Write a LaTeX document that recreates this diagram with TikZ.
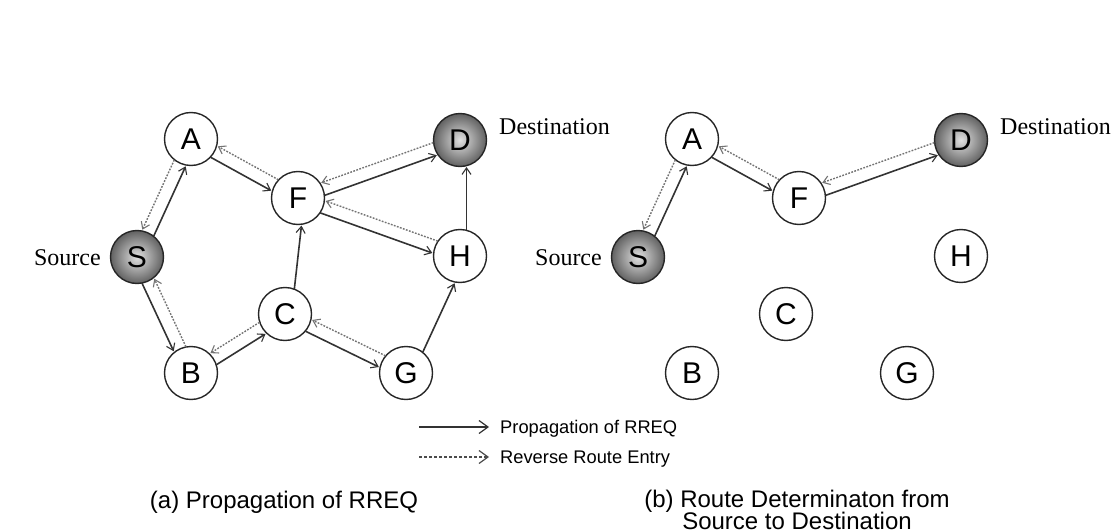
\documentclass[tikz,border=0pt]{standalone}
\usepackage{fontspec}
\setmainfont{Liberation Serif}
\setsansfont{Liberation Sans}
\usetikzlibrary{arrows.meta,calc}

% one RREQ hop or reverse entry, drawn a little to the right of the centre line
\newcommand\hop[3]{%
  \draw[#1,shorten <=26pt,shorten >=27pt]
    ($(#2)!6.5pt!-90:(#3)$) -- ($(#3)!6.5pt!90:(#2)$);}

% the eight nodes of one network, names prefixed by #1
\newcommand\network[1]{%
  \node[ends] (#1S) at (137,257) {S};
  \node[ends] (#1D) at (460,140) {D};
  \node[nd]   (#1A) at (191,139) {A};
  \node[nd]   (#1F) at (298,198) {F};
  \node[nd]   (#1H) at (460,256) {H};
  \node[nd]   (#1C) at (285,314) {C};
  \node[nd]   (#1B) at (191,373) {B};
  \node[nd]   (#1G) at (406,373) {G};
  \node[lbl,anchor=base east] (#1src) at ($(#1S)+(-36,8)$) {Source};
  \node[lbl,anchor=base west] (#1dst) at ($(#1D)+(39,-5)$) {Destination};}

\begin{document}
\begin{tikzpicture}[x=1pt,y=-1pt,
  nd/.style={circle,draw=black!85,line width=1.4pt,fill=white,
    minimum size=53pt,inner sep=0pt,
    font=\sffamily\fontsize{30}{30}\selectfont},
  ends/.style={nd,shading=radial,inner color=black!12,outer color=black!62},
  lbl/.style={inner sep=0pt,font=\fontsize{24}{24}\selectfont},
  tip/.style={-{Straight Barb[length=6.5pt,width=9pt,line width=1.1pt]}},
  reqline/.style={draw=black!80,line width=1.6pt,tip},
  revline/.style={draw=black!55,line width=1.4pt,dash pattern=on 1.8pt off 1.4pt,tip},
  keytip/.style={-{Straight Barb[length=9pt,width=13pt,line width=1.2pt]}},
  keytext/.style={inner sep=0pt,font=\sffamily\fontsize{18.3}{18.3}\selectfont},
  captext/.style={inner sep=0pt,font=\sffamily\fontsize{24}{24}\selectfont}
]
\useasboundingbox (0,0) rectangle (1116,532);

% (a) flooding of the route request
\network{a}
\hop{reqline}{aS}{aA} \hop{revline}{aA}{aS}
\hop{reqline}{aA}{aF} \hop{revline}{aF}{aA}
\hop{reqline}{aS}{aB} \hop{revline}{aB}{aS}
\hop{reqline}{aB}{aC} \hop{revline}{aC}{aB}
\hop{reqline}{aC}{aG} \hop{revline}{aG}{aC}
\hop{reqline}{aF}{aH} \hop{revline}{aH}{aF}
\hop{reqline}{aF}{aD} \hop{revline}{aD}{aF}
\hop{reqline}{aC}{aF}
\hop{reqline}{aG}{aH}
\hop{reqline}{aH}{aD}

% (b) the route that is kept
\begin{scope}[xshift=501pt]
\network{b}
\end{scope}
\hop{reqline}{bS}{bA} \hop{revline}{bA}{bS}
\hop{reqline}{bA}{bF} \hop{revline}{bF}{bA}
\hop{reqline}{bF}{bD} \hop{revline}{bD}{bF}

% key
\coordinate (k1a) at (419,427);
\coordinate (k1b) at (489,427);
\coordinate (k2a) at (419,457);
\coordinate (k2b) at (489,457);
\draw[draw=black!80,line width=1.5pt,keytip] (k1a) -- (k1b);
\draw[draw=black!70,line width=1.3pt,dash pattern=on 3pt off 2pt,keytip] (k2a) -- (k2b);
\node[keytext,anchor=base west] (k1t) at (500,433) {Propagation of RREQ};
\node[keytext,anchor=base west] (k2t) at (500,463) {Reverse Route Entry};

% captions
\node[captext,anchor=base] (capa) at (284,508) {(a) Propagation of RREQ};
\node[captext,anchor=base] (capb1) at (797,507) {(b) Route Determinaton from};
\node[captext,anchor=base] (capb2) at (797,529) {Source to Destination};
\end{tikzpicture}
\end{document}
